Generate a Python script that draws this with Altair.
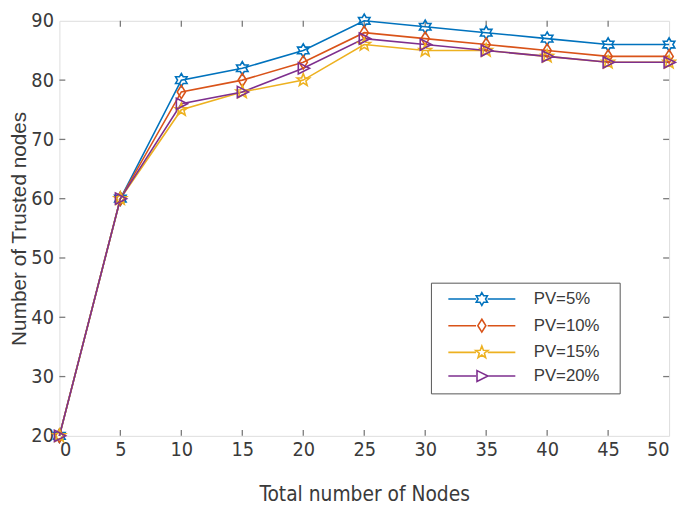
import math
import altair as alt
import pandas as pd

# ---------------- data ----------------
nodes = [0, 5, 10, 15, 20, 25, 30, 35, 40, 45, 50]
pv5 = [20, 60, 80, 82, 85, 90, 89, 88, 87, 86, 86]
pv10 = [20, 60, 78, 80, 83, 88, 87, 86, 85, 84, 84]
pv15 = [20, 60, 75, 78, 80, 86, 85, 85, 84, 83, 83]
pv20 = [20, 60, 76, 78, 82, 87, 86, 85, 84, 83, 83]
series_names = ["PV=5%", "PV=10%", "PV=15%", "PV=20%"]
x_ticks = [0, 5, 10, 15, 20, 25, 30, 35, 40, 45, 50]
y_ticks = [20, 30, 40, 50, 60, 70, 80, 90]

colors = ["#0072BD", "#D95319", "#EDB120", "#7E2F8E"]

rows = []
for name, vals in zip(series_names, [pv5, pv10, pv15, pv20]):
    for n, v in zip(nodes, vals):
        rows.append({"nodes": n, "trusted": v, "series": name})
df = pd.DataFrame(rows)
xt = pd.DataFrame({"t": x_ticks[1:-1]})
yt = pd.DataFrame({"t": y_ticks[1:-1]})


# ---------------- marker shapes ----------------
def star(n, r_in, rot=-90):
    pts = []
    for k in range(2 * n):
        r = 1.0 if k % 2 == 0 else r_in
        a = math.radians(rot + k * 180.0 / n)
        pts.append((r * math.cos(a), r * math.sin(a)))
    return "M" + "L".join(f"{x:.3f},{y:.3f}" for x, y in pts) + "Z"


hexagram = star(6, 0.577)
diamond = "M0,-1L0.62,0L0,1L-0.62,0Z"
pentagram = star(5, 0.42)
tri_right = "M-0.75,-0.85L0.95,0L-0.75,0.85Z"
marker_paths = [hexagram, diamond, pentagram, tri_right]
seg = "M-5.2,0L-0.9,0M0.9,0L5.2,0"
legend_paths = [seg + p for p in marker_paths]

W, H = 617, 420
GRAY = "#7a7a7a"
TXT = "#3a3a3a"
NARROW = "Liberation Sans Narrow, DejaVu Sans Condensed, Liberation Sans, Arial"

xs = alt.Scale(domain=[0, 50], nice=False, zero=False)
ys = alt.Scale(domain=[20, 90], nice=False, zero=False)

x_enc = alt.X(
    "nodes:Q",
    scale=xs,
    axis=alt.Axis(
        values=x_ticks, title="Total number of Nodes", ticks=False, domain=False,
        grid=False, labelFont=NARROW, labelFontSize=20, labelColor=TXT,
        labelPadding=4, titleFont=NARROW, titleFontSize=21, titleFontWeight="normal",
        titleColor=TXT, titlePadding=24,
    ),
)
y_enc = alt.Y(
    "trusted:Q",
    scale=ys,
    axis=alt.Axis(
        values=y_ticks, title="Number of Trusted nodes", ticks=False, domain=False,
        grid=False, labelFont=NARROW, labelFontSize=20, labelColor=TXT,
        labelPadding=6, titleFont="Liberation Sans, Arial", titleFontSize=21,
        titleFontWeight="normal", titleColor=TXT, titlePadding=1,
    ),
)

col_scale = alt.Scale(domain=series_names, range=colors)
shape_scale = alt.Scale(domain=series_names, range=marker_paths)
legend_shape_scale = alt.Scale(domain=series_names, range=legend_paths)

lines = alt.Chart(df).mark_line(strokeWidth=1.6).encode(
    x=x_enc, y=y_enc,
    color=alt.Color("series:N", scale=col_scale, legend=None),
    detail="series:N",
)
points = alt.Chart(df).mark_point(filled=False, size=180, strokeWidth=1.6, opacity=1).encode(
    x="nodes:Q", y="trusted:Q",
    color=alt.Color("series:N", scale=col_scale, legend=None),
    shape=alt.Shape("series:N", scale=shape_scale, legend=None),
)

leg_common = dict(
    orient="none", legendX=376, legendY=265, title=None,
    labelFont="Liberation Sans, Arial", labelFontSize=17, labelColor=TXT,
    labelExpr="datum.label + '\u2800'",
    symbolSize=170, symbolStrokeWidth=1.6, symbolOffset=35, labelOffset=44,
    strokeColor="#555555", fillColor="white", padding=8, rowPadding=6,
    symbolFillColor="transparent",
)
legend_layer = alt.Chart(df).transform_filter("false").mark_point(
    filled=False, size=170, strokeWidth=1.6, opacity=1
).encode(
    x="nodes:Q", y="trusted:Q",
    color=alt.Color("series:N", scale=col_scale, legend=alt.Legend(**leg_common)),
    shape=alt.Shape("series:N", scale=legend_shape_scale, legend=alt.Legend(**leg_common)),
)

tick_style = dict(color=GRAY, strokeWidth=1.3)
bottom_ticks = alt.Chart(xt).mark_rule(**tick_style).encode(
    x=alt.X("t:Q", scale=xs), y=alt.value(H), y2=alt.value(H - 6)
)
top_ticks = alt.Chart(xt).mark_rule(**tick_style).encode(
    x=alt.X("t:Q", scale=xs), y=alt.value(0), y2=alt.value(6)
)
left_ticks = alt.Chart(yt).mark_rule(**tick_style).encode(
    y=alt.Y("t:Q", scale=ys), x=alt.value(0), x2=alt.value(6)
)
right_ticks = alt.Chart(yt).mark_rule(**tick_style).encode(
    y=alt.Y("t:Q", scale=ys), x=alt.value(W), x2=alt.value(W - 6)
)

chart = (
    alt.layer(bottom_ticks, top_ticks, left_ticks, right_ticks, lines, points, legend_layer)
    .resolve_scale(color="independent", shape="independent")
    .properties(
        width=W, height=H,
        autosize=alt.AutoSizeParams(type="none"),
        padding={"left": 52, "top": 10, "right": 8, "bottom": 68},
    )
    .configure_view(stroke=GRAY, strokeWidth=1.8)
    .configure(background="white")
)

chart.save("out.html", embed_options={"renderer": "svg", "actions": False})
